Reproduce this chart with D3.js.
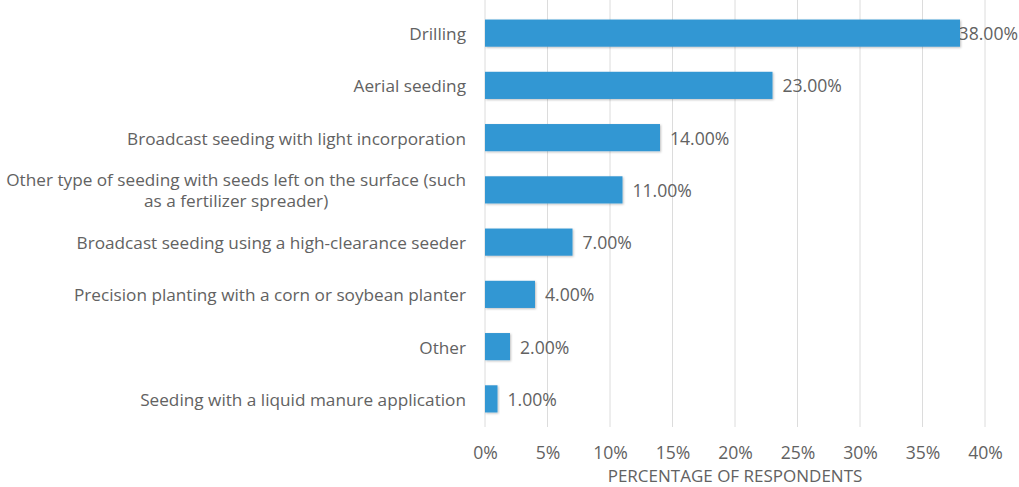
<!DOCTYPE html>
<html><head><meta charset="utf-8">
<script src="https://cdn.jsdelivr.net/npm/d3@7"></script>
<style>
body{margin:0;background:#fff;}
text{font-family:"Open Sans",sans-serif;fill:#626262;}
</style></head>
<body><svg id="c" width="1019" height="487"></svg>
<script>
const categories = [
  "Drilling",
  "Aerial seeding",
  "Broadcast seeding with light incorporation",
  "Other type of seeding with seeds left on the surface (such|as a fertilizer spreader)",
  "Broadcast seeding using a high-clearance seeder",
  "Precision planting with a corn or soybean planter",
  "Other",
  "Seeding with a liquid manure application"
];
const values = [38, 23, 14, 11, 7, 4, 2, 1];
const xTicks = [0, 5, 10, 15, 20, 25, 30, 35, 40];
const axisTitle = "PERCENTAGE OF RESPONDENTS";

const W = 1019, H = 487;
const m = {left: 485, right: 34, top: 7, bottom: 62};
const svg = d3.select("#c");
const x = d3.scaleLinear().domain([0, 40]).range([m.left, W - m.right]);
const y = d3.scaleBand().domain(categories).range([m.top, H - m.bottom]).paddingInner(0.48).paddingOuter(0.24);
const FS = 17.2, FV = 17.6;

// gridlines
svg.append("g").selectAll("line").data(xTicks).join("line")
  .attr("x1", d => x(d)).attr("x2", d => x(d))
  .attr("y1", m.top - 7).attr("y2", H - m.bottom + 2)
  .attr("stroke", "#dcdcdc").attr("stroke-width", 1);

// x tick labels via axis
const xa = svg.append("g").attr("transform", `translate(0,459)`)
  .call(d3.axisBottom(x).tickValues(xTicks).tickFormat(d => d + "%").tickSize(0).tickPadding(0));
xa.select(".domain").remove();
xa.selectAll("text").attr("dy", 0).attr("y", 0).attr("font-size", FV).attr("font-family", "Open Sans").attr("fill", "#626262");

svg.append("text").attr("x", x(20)).attr("y", 482).attr("text-anchor", "middle")
  .attr("font-size", 17).text(axisTitle);

// category labels
const lab = svg.append("g");
categories.forEach((c, i) => {
  const lines = c.split("|");
  const cy = y(c) + y.bandwidth() / 2;
  if (lines.length === 1) {
    lab.append("text").attr("x", 466).attr("y", cy + 7)
      .attr("text-anchor", "end").attr("font-size", FS).text(lines[0]);
  } else {
    const t = lab.append("text").attr("font-size", FS).attr("text-anchor", "middle");
    const probe = svg.append("text").attr("font-size", FS).text(lines[0]);
    const w = probe.node().getComputedTextLength(); probe.remove();
    const cx = 466 - w / 2;
    lines.forEach((l, k) => {
      t.append("tspan").attr("x", cx).attr("y", cy + 7 + (k - (lines.length - 1) / 2) * 21).text(l);
    });
  }
});

// value labels (under bars)
const vl = svg.append("g").selectAll("text").data(values).join("text")
  .attr("y", (d, i) => y(categories[i]) + y.bandwidth() / 2 + 7)
  .attr("font-size", FV).text(d => d.toFixed(2) + "%");
vl.attr("x", function(d) {
  const w = this.getComputedTextLength();
  return Math.min(x(d) + 10, W - 1 - w);
});

// bars
const defs = svg.append("defs");
const f = defs.append("filter").attr("id", "sh").attr("x", "-10%").attr("y", "-20%").attr("width", "130%").attr("height", "160%");
f.append("feDropShadow").attr("dx", 1).attr("dy", 1).attr("stdDeviation", 1).attr("flood-color", "#000").attr("flood-opacity", 0.25);
svg.append("g").selectAll("rect").data(values).join("rect")
  .attr("x", x(0)).attr("y", (d, i) => y(categories[i]))
  .attr("width", d => x(d) - x(0)).attr("height", y.bandwidth())
  .attr("fill", "#3397d3").attr("filter", "url(#sh)");
</script></body></html>
